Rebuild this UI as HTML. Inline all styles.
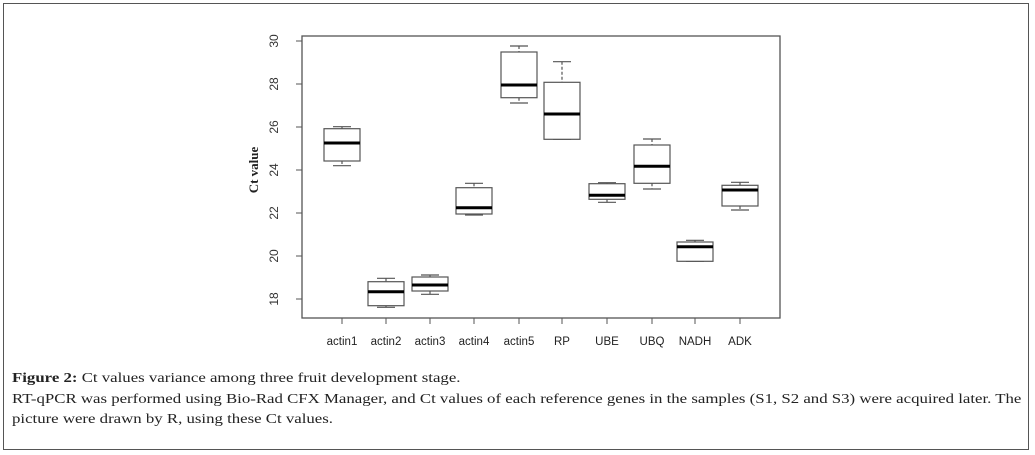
<!DOCTYPE html>
<html><head><meta charset="utf-8"><style>
body{margin:0;background:#fff;}
#wrap{position:relative;width:1035px;height:455px;overflow:hidden;background:#fff;}
#frame{position:absolute;left:3px;top:3px;width:1026px;height:447px;border:1px solid #555;box-sizing:border-box;}
.cap{position:absolute;left:12px;font-family:"Liberation Serif",serif;font-size:14px;color:#222;white-space:nowrap;transform:scaleX(1.2);transform-origin:0 0;}
</style></head><body><div id="wrap">
<div id="frame"></div>
<svg width="1035" height="455" style="position:absolute;left:0;top:0" font-family="Liberation Sans, sans-serif">
<rect x="302" y="36" width="478" height="282" fill="none" stroke="#555" stroke-width="1.3"/>
<g font-size="12" fill="#333" text-anchor="middle">
<text transform="translate(278,299) rotate(-90)">18</text>
<text transform="translate(278,256) rotate(-90)">20</text>
<text transform="translate(278,213) rotate(-90)">22</text>
<text transform="translate(278,170) rotate(-90)">24</text>
<text transform="translate(278,127) rotate(-90)">26</text>
<text transform="translate(278,84) rotate(-90)">28</text>
<text transform="translate(278,41) rotate(-90)">30</text>
</g>
<text transform="translate(258,170) rotate(-90)" text-anchor="middle" font-family="Liberation Serif, serif" font-weight="bold" font-size="13" fill="#222">Ct value</text>
<g stroke="#555" stroke-width="1">
<line x1="296" y1="299" x2="302" y2="299"/><line x1="296" y1="256" x2="302" y2="256"/><line x1="296" y1="213" x2="302" y2="213"/><line x1="296" y1="170" x2="302" y2="170"/><line x1="296" y1="127" x2="302" y2="127"/><line x1="296" y1="84" x2="302" y2="84"/><line x1="296" y1="41" x2="302" y2="41"/>
</g>
<g font-size="11.5" fill="#222" text-anchor="middle">
<text x="342" y="345">actin1</text><text x="386" y="345">actin2</text><text x="430" y="345">actin3</text><text x="474" y="345">actin4</text><text x="519" y="345">actin5</text><text x="562" y="345">RP</text><text x="607" y="345">UBE</text><text x="652" y="345">UBQ</text><text x="695" y="345">NADH</text><text x="740" y="345">ADK</text>
</g>
<g stroke="#555" stroke-width="1">
<line x1="342" y1="318" x2="342" y2="324"/><line x1="386" y1="318" x2="386" y2="324"/><line x1="430" y1="318" x2="430" y2="324"/><line x1="474" y1="318" x2="474" y2="324"/><line x1="519" y1="318" x2="519" y2="324"/><line x1="562" y1="318" x2="562" y2="324"/><line x1="607" y1="318" x2="607" y2="324"/><line x1="652" y1="318" x2="652" y2="324"/><line x1="695" y1="318" x2="695" y2="324"/><line x1="740" y1="318" x2="740" y2="324"/>
</g>
<g id="boxes" stroke="#555" stroke-width="1.2" fill="none"></g>
</svg>
<div class="cap" style="top:371px"><b>Figure 2:</b> Ct values variance among three fruit development stage.</div>
<div class="cap" style="top:392px">RT-qPCR was performed using Bio-Rad CFX Manager, and Ct values of each reference genes in the samples (S1, S2 and S3) were acquired later. The</div>
<div class="cap" style="top:412px">picture were drawn by R, using these Ct values.</div>
</div>
<script>
var d=[[342,126.7,128.7,143,161,165.7],[386,278.3,281.7,291.7,305.7,307.3],[430,275,277,285,291,294.3],[474,183.3,187.7,207.7,214,215],[519,46,52,85,97.7,103],[562,61.7,82.3,114,139.3,139.3],[607,182.7,183.7,195.3,199.3,202.3],[652,139,145,166.3,183.3,189],[695,240.3,242,246.7,261.3,261.3],[740,182.3,185.3,190,206,210]];
var g=document.getElementById('boxes'),s='';
d.forEach(function(b){var x=b[0];
s+='<line x1="'+x+'" y1="'+b[1]+'" x2="'+x+'" y2="'+b[2]+'" stroke-dasharray="3,2"/>';
s+='<line x1="'+x+'" y1="'+b[4]+'" x2="'+x+'" y2="'+b[5]+'" stroke-dasharray="3,2"/>';
s+='<line x1="'+(x-9)+'" y1="'+b[1]+'" x2="'+(x+9)+'" y2="'+b[1]+'"/>';
s+='<line x1="'+(x-9)+'" y1="'+b[5]+'" x2="'+(x+9)+'" y2="'+b[5]+'"/>';
s+='<rect x="'+(x-18)+'" y="'+b[2]+'" width="36" height="'+(b[4]-b[2])+'" fill="#fff"/>';
s+='<line x1="'+(x-18)+'" y1="'+b[3]+'" x2="'+(x+18)+'" y2="'+b[3]+'" stroke="#000" stroke-width="3"/>';});
g.innerHTML=s;
</script>
</body></html>
